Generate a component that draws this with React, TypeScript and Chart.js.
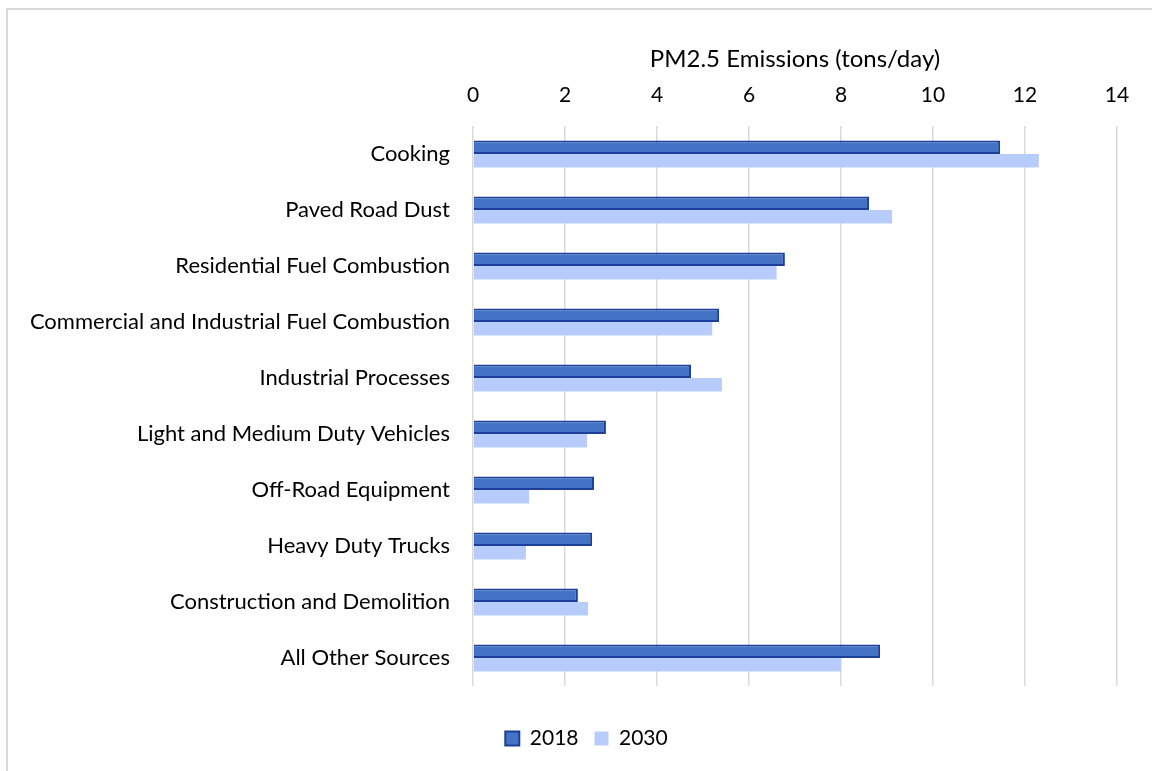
import React, { useEffect, useRef } from "react";
import { Chart, registerables } from "chart.js";

Chart.register(...registerables);

const categories = [
  "Cooking",
  "Paved Road Dust",
  "Residential Fuel Combustion",
  "Commercial and Industrial Fuel Combustion",
  "Industrial Processes",
  "Light and Medium Duty Vehicles",
  "Off-Road Equipment",
  "Heavy Duty Trucks",
  "Construction and Demolition",
  "All Other Sources",
];

const values2018 = [11.46, 8.61, 6.78, 5.35, 4.74, 2.89, 2.63, 2.59, 2.28, 8.85];
const values2030 = [12.3, 9.11, 6.6, 5.2, 5.41, 2.48, 1.22, 1.15, 2.5, 8.0];

const seriesLabels = ["2018", "2030"];
const axisTitle = "PM2.5 Emissions (tons/day)";
const xMin = 0;
const xMax = 14;
const xStep = 2;

const FONT = "Lato";
const TEXT = "#000000";

const frameBorder = {
  id: "frameBorder",
  beforeDraw(chart: any) {
    const ctx = chart.ctx;
    ctx.save();
    ctx.fillStyle = "#ffffff";
    ctx.fillRect(0, 0, chart.width, chart.height);
    ctx.fillStyle = "#d9d9d9";
    ctx.fillRect(6, 8, 2, chart.height - 8);
    ctx.fillRect(6, 8, chart.width - 6, 2);
    ctx.restore();
  },
};

const legendShift = {
  id: "legendShift",
  afterLayout(chart: any) {
    if (chart.legend) {
      chart.legend.left = 56;
    }
  },
};

export default function App() {
  const canvasRef = useRef<HTMLCanvasElement | null>(null);

  useEffect(() => {
    if (!canvasRef.current) return;
    const chart = new Chart(canvasRef.current, {
      type: "bar",
      data: {
        labels: categories,
        datasets: [
          {
            label: seriesLabels[0],
            data: values2018,
            backgroundColor: "#4472C4",
            borderColor: "#1B3F9A",
            borderWidth: 2,
            barPercentage: 1,
            categoryPercentage: 0.482,
          },
          {
            label: seriesLabels[1],
            data: values2030,
            backgroundColor: "#B8CCFB",
            borderColor: "#B8CCFB",
            borderWidth: 0,
            barPercentage: 1,
            categoryPercentage: 0.482,
          },
        ],
      },
      options: {
        indexAxis: "y",
        responsive: false,
        animation: false,
        layout: { padding: { left: 0, right: 35, top: 0, bottom: 12 } },
        scales: {
          x: {
            position: "top",
            min: xMin,
            max: xMax,
            ticks: {
              stepSize: xStep,
              padding: 18,
              color: TEXT,
              font: { family: FONT, size: 21 },
            },
            grid: { color: "#d9d9d9", lineWidth: 1.5, drawTicks: false },
            border: { display: false },
            title: {
              display: true,
              text: axisTitle,
              color: TEXT,
              font: { family: FONT, size: 24 },
              padding: { top: 45, bottom: 0 },
            },
            afterFit(scale: any) {
              scale.height = 126;
            },
          },
          y: {
            ticks: {
              padding: 23,
              color: TEXT,
              font: { family: FONT, size: 22 },
              autoSkip: false,
            },
            grid: { display: false, drawTicks: false },
            border: { display: false },
            afterFit(scale: any) {
              scale.width = 473;
            },
          },
        },
        plugins: {
          legend: {
            position: "bottom",
            title: {
              display: true,
              text: "",
              padding: 0,
              font: { family: FONT, size: 26, lineHeight: 1 },
            },
            labels: {
              boxWidth: 14,
              boxHeight: 14,
              padding: 16,
              color: TEXT,
              font: { family: FONT, size: 21 },
            },
          },
          tooltip: { enabled: false },
        },
      },
      plugins: [frameBorder, legendShift],
    });
    return () => chart.destroy();
  }, []);

  return (
    <div style={{ position: "fixed", left: 0, top: 0, width: 1152, height: 771 }}>
      <canvas ref={canvasRef} width={1152} height={771} />
    </div>
  );
}
